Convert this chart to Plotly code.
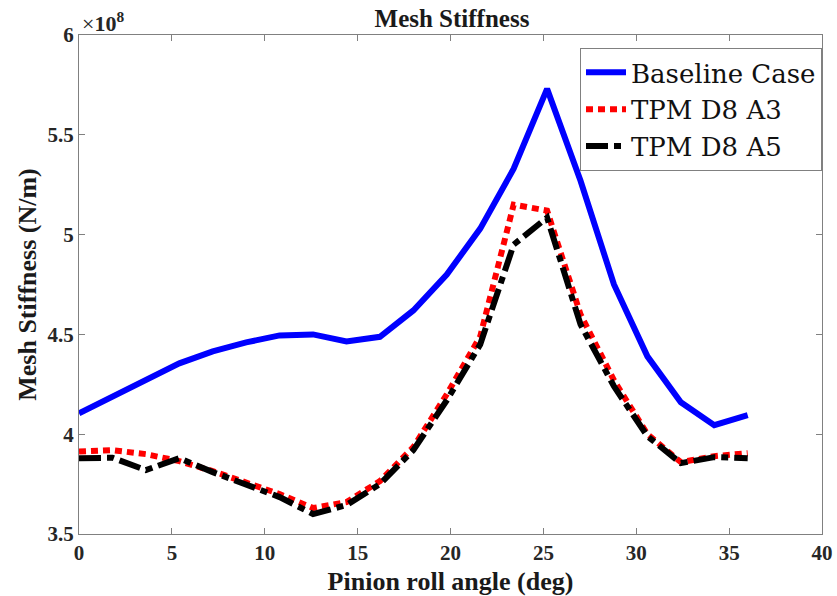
import plotly.graph_objects as go

angle = [0, 1.8, 3.6, 5.4, 7.2, 9.0, 10.8, 12.6, 14.4, 16.2, 18.0, 19.8, 21.6,
         23.4, 25.2, 27.0, 28.8, 30.6, 32.4, 34.2, 36.0]
baseline = [4.105, 4.19, 4.27, 4.355, 4.415, 4.46, 4.495, 4.50, 4.465, 4.488, 4.62,
            4.80, 5.03, 5.33, 5.73, 5.27, 4.75, 4.39, 4.16, 4.045, 4.095]
tpm_a3 = [3.913, 3.92, 3.90, 3.865, 3.815, 3.76, 3.70, 3.63, 3.66, 3.765, 3.935,
          4.20, 4.49, 5.15, 5.12, 4.60, 4.27, 4.00, 3.86, 3.89, 3.905]
tpm_a5 = [3.88, 3.882, 3.82, 3.88, 3.81, 3.745, 3.685, 3.60, 3.645, 3.75, 3.92,
          4.17, 4.45, 4.95, 5.085, 4.55, 4.24, 3.99, 3.855, 3.885, 3.88]

x_ticks = [0, 5, 10, 15, 20, 25, 30, 35, 40]
y_ticks = [3.5, 4, 4.5, 5, 5.5, 6]
y_tick_text = ["3.5", "4", "4.5", "5", "5.5", "6"]

serif = "Liberation Serif, Times New Roman, serif"
legend_font = "DejaVu Serif, Liberation Serif, serif"
fig = go.Figure()
fig.add_trace(go.Scatter(x=angle, y=baseline, mode="lines", name="Baseline Case",
                         line=dict(color="#0000ff", width=6)))
fig.add_trace(go.Scatter(x=angle, y=tpm_a3, mode="lines", name="TPM D8 A3",
                         line=dict(color="#ff0000", width=6, dash="7px,5px")))
fig.add_trace(go.Scatter(x=angle, y=tpm_a5, mode="lines", name="TPM D8 A5",
                         line=dict(color="#000000", width=6, dash="22px,6px,7px,6px")))

axis_common = dict(showline=True, mirror="ticks", linecolor="#808080", linewidth=1,
                   ticks="inside", ticklen=6, tickcolor="#808080", showgrid=False,
                   zeroline=False, automargin=False,
                   tickfont=dict(family=serif, size=21, color="#262626"))
fig.update_layout(
    width=837, height=596,
    margin=dict(l=79, r=15, t=35, b=62, autoexpand=False),
    paper_bgcolor="white", plot_bgcolor="white",
    title=dict(text="<b>Mesh Stiffness</b>", x=0.54, xanchor="center", y=0.97,
               yanchor="middle", font=dict(family=serif, size=25, color="#1a1a1a")),
    xaxis=dict(range=[0, 40], tickvals=x_ticks,
               ticktext=[f"<b>{v}</b>" for v in x_ticks],
               title=dict(text="<b>Pinion roll angle (deg)</b>",
                          font=dict(family=serif, size=26, color="#1a1a1a")),
               **axis_common),
    yaxis=dict(range=[3.5, 6], tickvals=y_ticks,
               ticktext=[f"<b>{t}</b>" for t in y_tick_text],
               title=dict(text="<b>Mesh Stiffness (N/m)</b>", standoff=3,
                          font=dict(family=serif, size=26, color="#1a1a1a")),
               **axis_common),
    legend=dict(x=1.0, xanchor="right", y=0.974, yanchor="top",
                bordercolor="#808080", borderwidth=1, bgcolor="white",
                font=dict(family=legend_font, size=26, color="#111111"),
                tracegroupgap=0, itemwidth=40),
    annotations=[dict(text="\u00d7<b>10<sup>8</sup></b>", xref="paper", yref="paper",
                      x=0.0, y=1.0, xanchor="left", yanchor="bottom", showarrow=False,
                      xshift=1, yshift=-3,
                      font=dict(family=serif, size=22, color="#262626"))],
)
fig.write_html("out.html")
